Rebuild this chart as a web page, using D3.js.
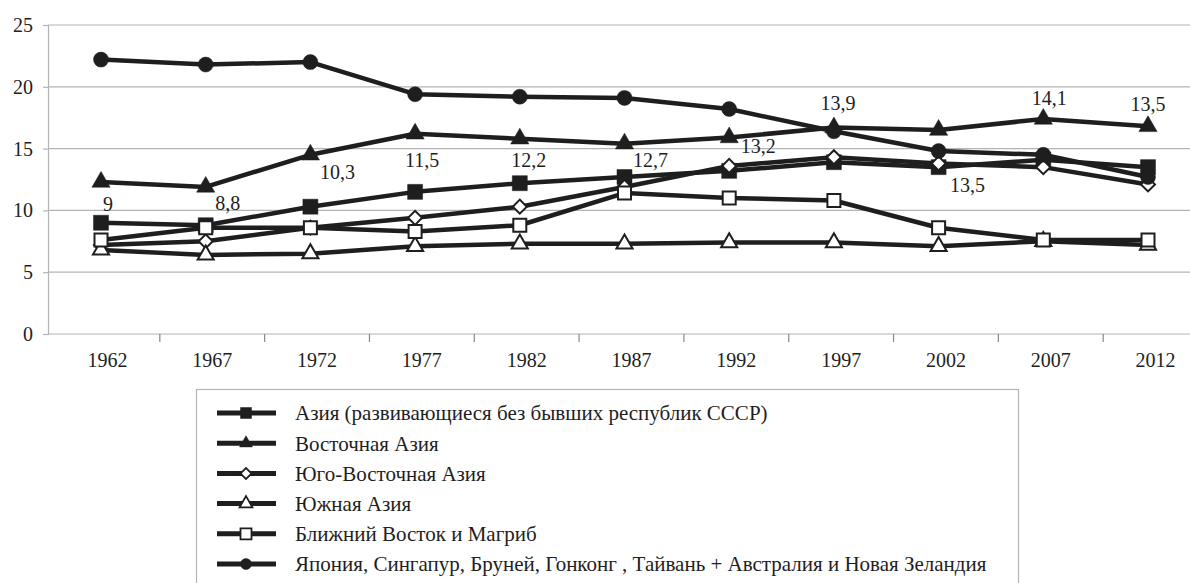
<!DOCTYPE html>
<html>
<head>
<meta charset="utf-8">
<script src="https://cdn.jsdelivr.net/npm/d3@7"></script>
<style>
  body { margin: 0; background: #fff; }
  svg { display: block; }
  svg text { font-family: "Liberation Serif", "DejaVu Serif", serif; }
</style>
</head>
<body>
<svg width="1190" height="583"></svg>
<script>
// years on the x axis
var years = [1962, 1967, 1972, 1977, 1982, 1987, 1992, 1997, 2002, 2007, 2012];

// series values
var asia = [9, 8.8, 10.3, 11.5, 12.2, 12.7, 13.2, 13.9, 13.5, 14.1, 13.5];
var eastAsia = [12.3, 11.9, 14.5, 16.2, 15.8, 15.4, 15.9, 16.7, 16.5, 17.4, 16.8];
var southEastAsia = [7.2, 7.5, 8.6, 9.4, 10.3, 11.9, 13.6, 14.3, 13.8, 13.5, 12.1];
var southAsia = [6.8, 6.4, 6.5, 7.1, 7.3, 7.3, 7.4, 7.4, 7.1, 7.5, 7.2];
var middleEast = [7.6, 8.6, 8.6, 8.3, 8.8, 11.4, 11.0, 10.8, 8.6, 7.6, 7.6];
var japanEtc = [22.2, 21.8, 22.0, 19.4, 19.2, 19.1, 18.2, 16.4, 14.8, 14.5, 12.7];

var seriesNames = [
  "Азия (развивающиеся без бывших республик СССР)",
  "Восточная Азия",
  "Юго-Восточная Азия",
  "Южная Азия",
  "Ближний Восток и Магриб",
  "Япония, Сингапур, Бруней, Гонконг , Тайвань + Австралия и Новая Зеландия"
];

var yTicks = [0, 5, 10, 15, 20, 25];

// where the value labels of the first series sit relative to their point
var labelDx = [7, 22, 27, 7, 9, 26, 29, 4, 29, 6, 0];
var labelDy = [-19, -22, -35, -32, -23, -17, -25, -59, 18, -62, -63];

var series = [
  { name: seriesNames[0], values: asia, shape: "square", fill: "#1e1e1e" },
  { name: seriesNames[1], values: eastAsia, shape: "triangle", fill: "#1e1e1e" },
  { name: seriesNames[2], values: southEastAsia, shape: "diamond", fill: "#fff" },
  { name: seriesNames[3], values: southAsia, shape: "triangle", fill: "#fff" },
  { name: seriesNames[4], values: middleEast, shape: "square", fill: "#fff" },
  { name: seriesNames[5], values: japanEtc, shape: "circle", fill: "#1e1e1e" }
];

var svg = d3.select("svg"),
    ink = "#1e1e1e",
    gridColor = "#b4b4b4",
    serif = "Liberation Serif, DejaVu Serif, serif",
    plotLeft = 48, plotRight = 1190, plotTop = 25, plotBottom = 334;

var xBand = d3.scaleBand().domain(years).range([55, 1208]);
var x = d3.scalePoint().domain(years).range([101, 1148]);
var y = d3.scaleLinear().domain([0, 25]).range([plotBottom, plotTop]);

var fmt = d3.formatLocale({ decimal: ",", thousands: " ", grouping: [3], currency: ["", ""] }).format("~g");

function symbolPath(shape, s) {
  if (shape === "square") return d3.symbol(d3.symbolSquare, s * s)();
  if (shape === "circle") return d3.symbol(d3.symbolCircle, Math.PI * s * s / 4)();
  if (shape === "triangle") return d3.symbol(d3.symbolTriangle, Math.sqrt(3) / 4 * s * s * 1.15)();
  // diamond: a square turned 45 degrees
  return d3.symbol(d3.symbolSquare, s * s / 2)();
}

// grid
svg.append("g")
  .selectAll("line")
  .data(yTicks)
  .enter().append("line")
  .attr("x1", plotLeft)
  .attr("x2", plotRight)
  .attr("y1", function(d) { return y(d); })
  .attr("y2", function(d) { return y(d); })
  .attr("stroke", gridColor)
  .attr("stroke-width", 1.2);

// y axis
var yAxis = svg.append("g")
  .attr("transform", "translate(" + plotLeft + ",0)")
  .call(d3.axisLeft(y).tickValues(yTicks).tickSize(5).tickPadding(10))
  .attr("font-family", serif)
  .attr("font-size", 20);
yAxis.select(".domain").attr("stroke", gridColor).attr("stroke-width", 1.2);
yAxis.selectAll(".tick line").attr("stroke", gridColor).attr("stroke-width", 1.2);
yAxis.selectAll("text").attr("fill", ink);

// x axis: labels centred in bands, ticks between bands
var xAxis = svg.append("g")
  .attr("transform", "translate(0," + plotBottom + ")")
  .call(d3.axisBottom(xBand).tickSize(0).tickPadding(19))
  .attr("font-family", serif)
  .attr("font-size", 20);
xAxis.select(".domain").remove();
xAxis.selectAll("text").attr("fill", ink);

svg.append("g")
  .selectAll("line")
  .data(years.slice(1))
  .enter().append("line")
  .attr("x1", function(d) { return xBand(d); })
  .attr("x2", function(d) { return xBand(d); })
  .attr("y1", plotBottom)
  .attr("y2", plotBottom + 8)
  .attr("stroke", "#888")
  .attr("stroke-width", 1.2);

// lines and markers
var line = d3.line()
  .x(function(d, i) { return x(years[i]); })
  .y(function(d) { return y(d); });

series.forEach(function(s) {
  var g = svg.append("g");
  g.append("path")
    .datum(s.values)
    .attr("d", line)
    .attr("fill", "none")
    .attr("stroke", ink)
    .attr("stroke-width", 4.5)
    .attr("stroke-linejoin", "round");

  var size = s.shape === "triangle" ? 17 : (s.shape === "diamond" ? 16 : 15);
  g.selectAll("path.m")
    .data(s.values)
    .enter().append("path")
    .attr("class", "m")
    .attr("d", symbolPath(s.shape, s.fill === "#fff" ? size - 2 : size))
    .attr("transform", function(d, i) {
      return "translate(" + x(years[i]) + "," + y(d) + ")" + (s.shape === "diamond" ? " rotate(45)" : "");
    })
    .attr("fill", s.fill)
    .attr("stroke", ink)
    .attr("stroke-width", s.fill === "#fff" ? 2 : 0.5);
});

// value labels for the first series
svg.append("g")
  .selectAll("text")
  .data(asia)
  .enter().append("text")
  .attr("x", function(d, i) { return x(years[i]) + labelDx[i]; })
  .attr("y", function(d, i) { return y(d) + labelDy[i]; })
  .attr("dy", "0.35em")
  .attr("text-anchor", "middle")
  .attr("font-family", serif)
  .attr("font-size", 20)
  .attr("fill", ink)
  .text(function(d) { return fmt(d); });

// legend
var legend = svg.append("g");
legend.append("rect")
  .attr("x", 196.5)
  .attr("y", 389.5)
  .attr("width", 822)
  .attr("height", 220)
  .attr("fill", "none")
  .attr("stroke", gridColor)
  .attr("stroke-width", 1.2);

var item = legend.selectAll("g.item")
  .data(series)
  .enter().append("g")
  .attr("class", "item")
  .attr("transform", function(d, i) { return "translate(0," + (413 + i * 30.2) + ")"; });

item.append("line")
  .attr("x1", 217)
  .attr("x2", 276)
  .attr("stroke", ink)
  .attr("stroke-width", 5);

item.append("path")
  .attr("d", function(d) { return symbolPath(d.shape, d.shape === "triangle" ? 12 : 11); })
  .attr("transform", function(d) { return "translate(246,0)" + (d.shape === "diamond" ? " rotate(45)" : ""); })
  .attr("fill", function(d) { return d.fill; })
  .attr("stroke", ink)
  .attr("stroke-width", function(d) { return d.fill === "#fff" ? 1.8 : 0.5; });

item.append("text")
  .attr("x", 295)
  .attr("dy", "0.35em")
  .attr("font-family", serif)
  .attr("font-size", 21)
  .attr("fill", ink)
  .text(function(d) { return d.name; });
</script>
</body>
</html>
